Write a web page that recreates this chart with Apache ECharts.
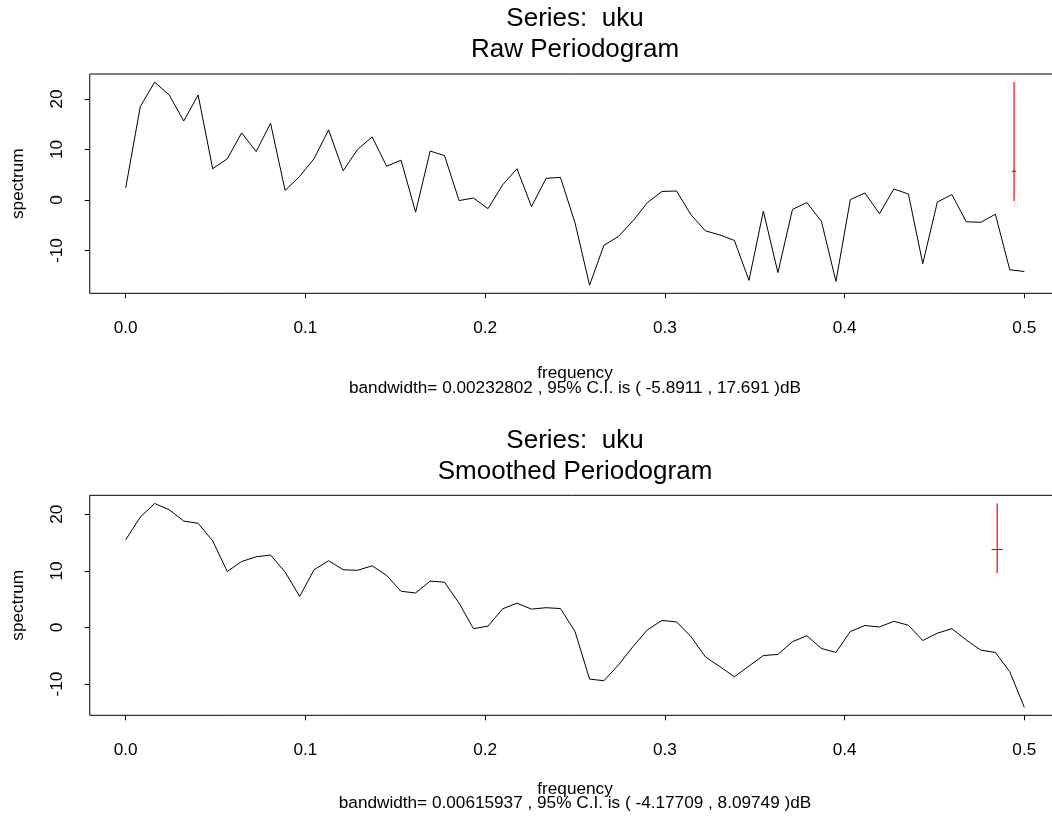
<!DOCTYPE html>
<html>
<head>
<meta charset="utf-8">
<script src="https://cdn.jsdelivr.net/npm/echarts@6/dist/echarts.min.js"></script>
<style>
  html, body { margin: 0; padding: 0; background: #fff; }
  #chart { width: 1052px; height: 825px; }
</style>
</head>
<body>
<div id="chart"></div>
<script>
// ---- data ----
const freq = [0, 0.0081, 0.0161, 0.0242, 0.0323, 0.0403, 0.0484, 0.0565, 0.0645, 0.0726,
  0.0806, 0.0887, 0.0968, 0.1048, 0.1129, 0.121, 0.129, 0.1371, 0.1452, 0.1532,
  0.1613, 0.1694, 0.1774, 0.1855, 0.1935, 0.2016, 0.2097, 0.2177, 0.2258, 0.2339,
  0.2419, 0.25, 0.2581, 0.2661, 0.2742, 0.2823, 0.2903, 0.2984, 0.3065, 0.3145,
  0.3226, 0.3306, 0.3387, 0.3468, 0.3548, 0.3629, 0.371, 0.379, 0.3871, 0.3952,
  0.4032, 0.4113, 0.4194, 0.4274, 0.4355, 0.4435, 0.4516, 0.4597, 0.4677, 0.4758,
  0.4839, 0.4919, 0.5];

const rawSpec = [2.4, 18.5, 23.35, 20.8, 15.65, 20.8, 6.2, 8.15, 13.3, 9.6,
  15.2, 1.9, 4.7, 8.2, 13.9, 5.8, 10.0, 12.5, 6.7, 7.9,
  -2.4, 9.7, 8.8, -0.1, 0.4, -1.7, 3.0, 6.2, -1.3, 4.3,
  4.5, -4.5, -16.85, -8.95, -7.2, -4.1, -0.5, 1.7, 1.8, -2.9,
  -6.1, -6.9, -8.0, -15.9, -2.2, -14.35, -1.85, -0.5, -4.2, -16.1,
  0.1, 1.4, -2.7, 2.2, 1.2, -12.6, -0.4, 1.1, -4.3, -4.4,
  -2.8, -13.8, -14.15];

const smoothSpec = [15.5, 19.5, 21.9, 20.8, 18.8, 18.4, 15.3, 9.9, 11.65, 12.5,
  12.8, 9.8, 5.5, 10.2, 11.8, 10.2, 10.1, 10.9, 9.2, 6.4,
  6.1, 8.2, 8.0, 4.3, -0.2, 0.25, 3.3, 4.3, 3.25, 3.5,
  3.35, -0.7, -9.1, -9.4, -6.6, -3.35, -0.4, 1.25, 1.0, -1.6,
  -5.2, -6.9, -8.7, -6.8, -4.95, -4.75, -2.5, -1.45, -3.7, -4.4,
  -0.7, 0.35, 0.1, 1.1, 0.4, -2.3, -1.0, -0.2, -2.2, -4.0,
  -4.4, -7.8, -14.1];

// confidence bars: [x, lower, centre, upper, bandwidth]
const rawCI = [0.4943, -0.2, 5.7, 23.4, 0.00232802];
const smoothCI = [0.4849, 9.6, 13.78, 21.88, 0.00615937];

const xTicks = [0, 0.1, 0.2, 0.3, 0.4, 0.5];
const yTicks = [-10, 0, 10, 20];
const xRange = [-0.02, 0.52];
const rawYRange = [-18.46, 24.96];
const smoothYRange = [-15.5, 23.35];

const texts = {
  series: 'Series:  uku',
  rawTitle: 'Raw Periodogram',
  smoothTitle: 'Smoothed Periodogram',
  xName: 'frequency',
  yName: 'spectrum',
  rawSub: 'bandwidth= 0.00232802 , 95% C.I. is ( -5.8911 , 17.691 )dB',
  smoothSub: 'bandwidth= 0.00615937 , 95% C.I. is ( -4.17709 , 8.09749 )dB'
};

// ---- chart ----
const FONT = '"Liberation Sans", Arial, Helvetica, sans-serif';
const SMALL = 17.2;
const BIG = 26;
const chart = echarts.init(document.getElementById('chart'), null, { renderer: 'canvas' });

function pairs(xs, ys) { return xs.map((x, i) => [x, ys[i]]); }

function xAxisFor(gi) {
  return {
    type: 'value', gridIndex: gi, min: xRange[0], max: xRange[1], position: 'bottom',
    axisLine: { show: false, onZero: false },
    splitLine: { show: false },
    axisTick: { show: true, length: 5, customValues: xTicks, lineStyle: { color: '#000', width: 1 } },
    axisLabel: { customValues: xTicks, formatter: v => v.toFixed(1), margin: 26,
      fontSize: SMALL, fontFamily: FONT, color: '#000' }
  };
}
function yAxisFor(gi, range) {
  return {
    type: 'value', gridIndex: gi, min: range[0], max: range[1], position: 'left',
    axisLine: { show: false, onZero: false },
    splitLine: { show: false },
    axisTick: { show: true, length: 5, customValues: yTicks, lineStyle: { color: '#000', width: 1 } },
    axisLabel: { customValues: yTicks, rotate: 90, margin: 24,
      fontSize: SMALL, fontFamily: FONT, color: '#000' },
    name: texts.yName, nameLocation: 'middle', nameRotate: 90, nameGap: 63,
    nameTextStyle: { fontSize: SMALL, fontFamily: FONT, color: '#000' }
  };
}
function ciRender(params, api) {
  const x = api.value(0), lo = api.value(1), c = api.value(2), hi = api.value(3), bw = api.value(4);
  const pLo = api.coord([x, lo]), pHi = api.coord([x, hi]);
  const pL = api.coord([x - bw / 2, c]), pR = api.coord([x + bw / 2, c]);
  const st = { stroke: '#ff0000', lineWidth: 1.2, fill: null };
  return {
    type: 'group',
    children: [
      { type: 'line', shape: { x1: pLo[0], y1: pLo[1], x2: pHi[0], y2: pHi[1] }, style: st },
      { type: 'line', shape: { x1: pL[0], y1: pL[1], x2: pR[0], y2: pR[1] }, style: st }
    ]
  };
}
function ciSeries(gi, ci) {
  return {
    type: 'custom', coordinateSystem: 'cartesian2d', xAxisIndex: gi, yAxisIndex: gi,
    silent: true, z: 3, renderItem: ciRender, clip: false,
    encode: { x: [0], y: [1, 2, 3] },
    data: [ci]
  };
}
function label(txt, x, y, size) {
  return { type: 'text', x: x, y: y, silent: true,
    style: { text: txt, font: size + 'px ' + FONT, fill: '#000', textAlign: 'center', textVerticalAlign: 'middle' } };
}

const gridLeft = 89.76, gridWidth = 970.5;
const cx = gridLeft + gridWidth / 2;

function gridFor(top, height) {
  return { left: gridLeft, top: top, width: gridWidth, height: height, show: true,
    borderColor: '#000', borderWidth: 1, backgroundColor: 'transparent',
    containLabel: false, outerBoundsMode: 'none' };
}

chart.setOption({
  animation: false,
  backgroundColor: '#fff',
  grid: [gridFor(74, 219.3), gridFor(495.3, 220)],
  xAxis: [xAxisFor(0), xAxisFor(1)],
  yAxis: [yAxisFor(0, rawYRange), yAxisFor(1, smoothYRange)],
  series: [
    { type: 'line', xAxisIndex: 0, yAxisIndex: 0, data: pairs(freq, rawSpec), showSymbol: false, symbol: 'none',
      color: '#000', lineStyle: { color: '#000', width: 1 } },
    { type: 'line', xAxisIndex: 1, yAxisIndex: 1, data: pairs(freq, smoothSpec), showSymbol: false, symbol: 'none',
      color: '#000', lineStyle: { color: '#000', width: 1 } },
    ciSeries(0, rawCI),
    ciSeries(1, smoothCI)
  ],
  graphic: [
    label(texts.series, cx, 19, BIG),
    label(texts.rawTitle, cx, 50, BIG),
    label(texts.xName, cx, 373, SMALL),
    label(texts.rawSub, cx, 388, SMALL),
    label(texts.series, cx, 440.5, BIG),
    label(texts.smoothTitle, cx, 471.7, BIG),
    label(texts.xName, cx, 789, SMALL),
    label(texts.smoothSub, cx, 803, SMALL)
  ]
});
</script>
</body>
</html>
